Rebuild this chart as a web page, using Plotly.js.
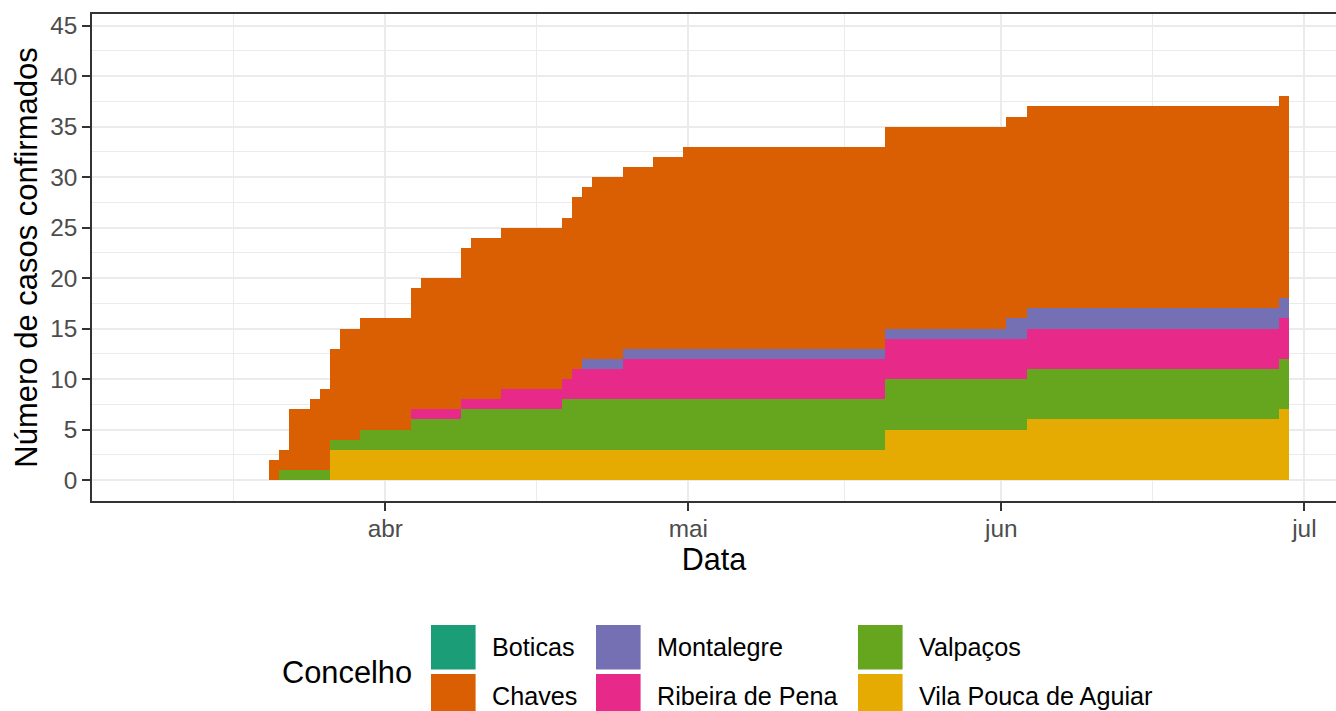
<!DOCTYPE html>
<html>
<head>
<meta charset="utf-8">
<script src="https://cdn.plot.ly/plotly-3.0.1.min.js"></script>
<style>
html,body{margin:0;padding:0;background:#ffffff;}
#chart{width:1336px;height:711px;}
</style>
</head>
<body>
<div id="chart"></div>
<script>
// ---------- DATA (cumulative confirmed cases per day) ----------
const dates = [
  "2020-03-09","2020-03-10","2020-03-11","2020-03-12","2020-03-13","2020-03-14","2020-03-15","2020-03-16","2020-03-17","2020-03-18",
  "2020-03-19","2020-03-20","2020-03-21","2020-03-22","2020-03-23","2020-03-24","2020-03-25","2020-03-26","2020-03-27","2020-03-28",
  "2020-03-29","2020-03-30","2020-03-31",
  "2020-04-01","2020-04-02","2020-04-03","2020-04-04","2020-04-05","2020-04-06","2020-04-07","2020-04-08","2020-04-09","2020-04-10",
  "2020-04-11","2020-04-12","2020-04-13","2020-04-14","2020-04-15","2020-04-16","2020-04-17","2020-04-18","2020-04-19","2020-04-20",
  "2020-04-21","2020-04-22","2020-04-23","2020-04-24","2020-04-25","2020-04-26","2020-04-27","2020-04-28","2020-04-29","2020-04-30",
  "2020-05-01","2020-05-02","2020-05-03","2020-05-04","2020-05-05","2020-05-06","2020-05-07","2020-05-08","2020-05-09","2020-05-10",
  "2020-05-11","2020-05-12","2020-05-13","2020-05-14","2020-05-15","2020-05-16","2020-05-17","2020-05-18","2020-05-19","2020-05-20",
  "2020-05-21","2020-05-22","2020-05-23","2020-05-24","2020-05-25","2020-05-26","2020-05-27","2020-05-28","2020-05-29","2020-05-30",
  "2020-05-31",
  "2020-06-01","2020-06-02","2020-06-03","2020-06-04","2020-06-05","2020-06-06","2020-06-07","2020-06-08","2020-06-09","2020-06-10",
  "2020-06-11","2020-06-12","2020-06-13","2020-06-14","2020-06-15","2020-06-16","2020-06-17","2020-06-18","2020-06-19","2020-06-20",
  "2020-06-21","2020-06-22","2020-06-23","2020-06-24","2020-06-25","2020-06-26","2020-06-27","2020-06-28","2020-06-29"
];

const boticas = [
  0,0,0,0,0,0,0,0,0,0, 0,0,0,0,0,0,0,0,0,0, 0,0,0,
  0,0,0,0,0,0,0,0,0,0, 0,0,0,0,0,0,0,0,0,0, 0,0,0,0,0,0,0,0,0,0,
  0,0,0,0,0,0,0,0,0,0, 0,0,0,0,0,0,0,0,0,0, 0,0,0,0,0,0,0,0,0,0, 0,
  0,0,0,0,0,0,0,0,0,0, 0,0,0,0,0,0,0,0,0,0, 0,0,0,0,0,0,0,0,0
];

const chaves = [
  0,0,0,0,0,0,0,0,0,0, 0,0,2,2,6,6,7,8,9,11, 11,11,11,
  11,11,11,12,13,13,13,13,15,16, 16,16,16,16,16,16,16,16,16,17, 17,18,18,18,18,18,18,19,19,19,
  20,20,20,20,20,20,20,20,20,20, 20,20,20,20,20,20,20,20,20,20, 20,20,20,20,20,20,20,20,20,20, 20,
  20,20,20,20,20,20,20,20,20,20, 20,20,20,20,20,20,20,20,20,20, 20,20,20,20,20,20,20,20,20
];

const montalegre = [
  0,0,0,0,0,0,0,0,0,0, 0,0,0,0,0,0,0,0,0,0, 0,0,0,
  0,0,0,0,0,0,0,0,0,0, 0,0,0,0,0,0,0,0,0,0, 1,1,1,1,1,1,1,1,1,1,
  1,1,1,1,1,1,1,1,1,1, 1,1,1,1,1,1,1,1,1,1, 1,1,1,1,1,1,1,1,1,1, 1,
  1,2,2,2,2,2,2,2,2,2, 2,2,2,2,2,2,2,2,2,2, 2,2,2,2,2,2,2,2,2
];

const ribeiraDePena = [
  0,0,0,0,0,0,0,0,0,0, 0,0,0,0,0,0,0,0,0,0, 0,0,0,
  0,0,0,1,1,1,1,1,1,1, 1,1,2,2,2,2,2,2,2,3, 3,3,3,3,4,4,4,4,4,4,
  4,4,4,4,4,4,4,4,4,4, 4,4,4,4,4,4,4,4,4,4, 4,4,4,4,4,4,4,4,4,4, 4,
  4,4,4,4,4,4,4,4,4,4, 4,4,4,4,4,4,4,4,4,4, 4,4,4,4,4,4,4,4,4
];

const valpacos = [
  0,0,0,0,0,0,0,0,0,0, 0,0,0,1,1,1,1,1,1,1, 1,2,2,
  2,2,2,3,3,3,3,3,4,4, 4,4,4,4,4,4,4,4,5,5, 5,5,5,5,5,5,5,5,5,5,
  5,5,5,5,5,5,5,5,5,5, 5,5,5,5,5,5,5,5,5,5, 5,5,5,5,5,5,5,5,5,5, 5,
  5,5,5,5,5,5,5,5,5,5, 5,5,5,5,5,5,5,5,5,5, 5,5,5,5,5,5,5,5,5
];

const vilaPoucaDeAguiar = [
  0,0,0,0,0,0,0,0,0,0, 0,0,0,0,0,0,0,0,3,3, 3,3,3,
  3,3,3,3,3,3,3,3,3,3, 3,3,3,3,3,3,3,3,3,3, 3,3,3,3,3,3,3,3,3,3,
  3,3,3,3,3,3,3,3,3,3, 3,3,3,3,3,3,3,3,3,3, 5,5,5,5,5,5,5,5,5,5, 5,
  5,5,5,6,6,6,6,6,6,6, 6,6,6,6,6,6,6,6,6,6, 6,6,6,6,6,6,6,6,7
];

// Legend / category labels and colours (ggplot factor order)
const concelhos = ["Boticas", "Chaves", "Montalegre", "Ribeira de Pena", "Valpaços", "Vila Pouca de Aguiar"];
const seriesValues = [boticas, chaves, montalegre, ribeiraDePena, valpacos, vilaPoucaDeAguiar];
const colors = ["#1B9E77", "#D95F02", "#7570B3", "#E7298A", "#66A61E", "#E6AB02"];

const xTickVals = ["2020-04-01", "2020-05-01", "2020-06-01", "2020-07-01"];
const xTickText = ["abr", "mai", "jun", "jul"];
const xMinorVals = ["2020-03-17", "2020-04-16", "2020-05-16 12:00", "2020-06-16"];
const yTickVals = [0, 5, 10, 15, 20, 25, 30, 35, 40, 45];

// ---------- TRACES (stack: last factor at the bottom, as ggplot does) ----------
const traces = [];
for (let i = concelhos.length - 1; i >= 0; i--) {
  traces.push({
    type: "bar",
    name: concelhos[i],
    x: dates,
    y: seriesValues[i],
    marker: { color: colors[i], line: { width: 0 } },
    showlegend: false,
    hoverinfo: "x+y+name"
  });
}

// ---------- LAYOUT ----------
const FW = 1336, FH = 711;
const M = { l: 92, r: 0, t: 14, b: 210 };
const plotW = FW - M.l - M.r;
const plotH = FH - M.t - M.b;
const px2x = p => (p - M.l) / plotW;
const py2y = p => (FH - M.b - p) / plotH;

const FONT = "Liberation Sans, Arial, Helvetica, sans-serif";
const shapes = [];
const annotations = [];

// manual legend (ggplot style: 2 rows, filled by column)
const keyCols = [431, 596, 858];
const keyRowsTop = [625, 674];
const keySize = 44.6;
for (let i = 0; i < concelhos.length; i++) {
  const c = Math.floor(i / 2), r = i % 2;
  const x0 = keyCols[c], y0 = keyRowsTop[r];
  shapes.push({
    type: "rect", xref: "paper", yref: "paper", layer: "above",
    x0: px2x(x0), x1: px2x(x0 + keySize),
    y0: py2y(y0 + keySize), y1: py2y(y0),
    fillcolor: colors[i], line: { width: 0 }
  });
  annotations.push({
    xref: "paper", yref: "paper", showarrow: false,
    x: px2x(x0 + keySize + 14), y: py2y(y0 + keySize / 2),
    xanchor: "left", yanchor: "middle",
    text: concelhos[i],
    font: { family: FONT, size: 25.2, color: "#000000" }
  });
}
annotations.push({
  xref: "paper", yref: "paper", showarrow: false,
  x: px2x(280), y: py2y(672),
  xanchor: "left", yanchor: "middle",
  text: "Concelho",
  font: { family: FONT, size: 30.8, color: "#000000" }
});

const layout = {
  width: FW, height: FH,
  margin: M,
  paper_bgcolor: "#ffffff",
  plot_bgcolor: "#ffffff",
  barmode: "stack",
  bargap: 0,
  showlegend: false,
  font: { family: FONT, color: "#000000" },
  xaxis: {
    type: "date",
    range: ["2020-03-02 23:02", "2020-07-04 03:07"],
    tickmode: "array",
    tickvals: xTickVals,
    ticktext: xTickText,
    ticks: "outside", ticklen: 7.5, tickwidth: 2, tickcolor: "#333333",
    ticklabelstandoff: -3,
    tickfont: { family: FONT, size: 24.4, color: "#4D4D4D" },
    showgrid: true, gridcolor: "#EBEBEB", gridwidth: 2,
    minor: { tickmode: "array", tickvals: xMinorVals, showgrid: true, gridcolor: "#EBEBEB", gridwidth: 1, ticks: "" },
    showline: true, linecolor: "#333333", linewidth: 2.2, mirror: true,
    zeroline: false,
    automargin: false,
    title: { text: "Data", font: { family: FONT, size: 30.5, color: "#000000" }, standoff: 3 }
  },
  yaxis: {
    range: [-2.08, 46.16],
    tickmode: "array",
    tickvals: yTickVals,
    ticks: "outside", ticklen: 7.5, tickwidth: 2, tickcolor: "#333333",
    tickfont: { family: FONT, size: 24.4, color: "#4D4D4D" },
    showgrid: true, gridcolor: "#EBEBEB", gridwidth: 2,
    minor: { tick0: 2.5, dtick: 5, showgrid: true, gridcolor: "#EBEBEB", gridwidth: 1, ticks: "" },
    showline: true, linecolor: "#333333", linewidth: 2.2, mirror: false,
    zeroline: false,
    automargin: false,
    title: { text: "Número de casos confirmados", font: { family: FONT, size: 31, color: "#000000" }, standoff: 4 }
  },
  shapes: shapes,
  annotations: annotations
};

Plotly.newPlot("chart", traces, layout, { staticPlot: true, displayModeBar: false });
</script>
</body>
</html>
